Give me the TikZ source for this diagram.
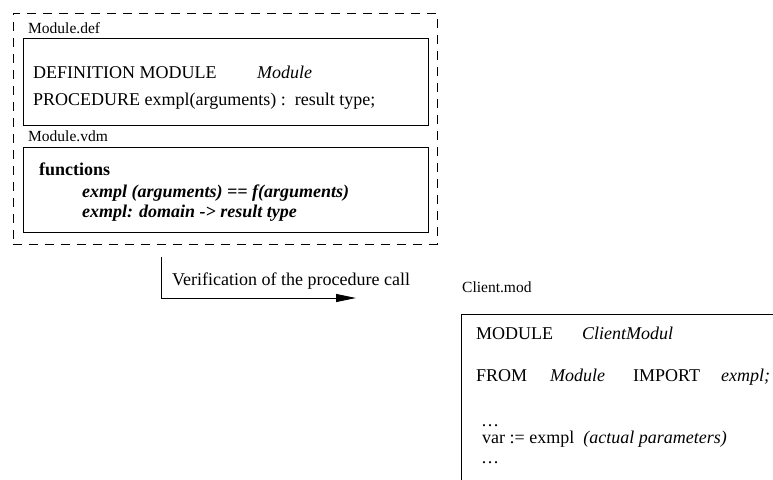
\documentclass[tikz,border=0pt]{standalone}
\usepackage{fontspec}
\setmainfont{Liberation Serif}
\usepackage{tikz}
\usetikzlibrary{arrows.meta,positioning}

\begin{document}
\begin{tikzpicture}[
    x=1pt, y=-1pt,
    box/.style={rectangle, draw, line width=1pt, anchor=north west, inner sep=0pt},
    group/.style={rectangle, draw, line width=0.9pt, dash pattern=on 9pt off 7pt, anchor=north west, inner sep=0pt},
    file/.style={anchor=base west, inner sep=0pt, font=\fontsize{15.5}{18}\selectfont},
    code/.style={anchor=base west, inner sep=0pt, font=\fontsize{18}{21}\selectfont},
    arrow/.style={-{Triangle[length=20pt,width=8pt]}, line width=0.9pt}
]
    \clip (0,0) rectangle (773,479);

    % definition part with its VDM specification
    \node[group, minimum width=424pt, minimum height=231pt] (spec) at (13,13) {};
    \node[file] (deflabel) at (28,33) {Module.def};
    \node[box, minimum width=405pt, minimum height=87pt] (defbox) at (23,38) {};
    \node[code] (defhead) at (33,78) {DEFINITION MODULE};
    \node[code] (defname) at (257,78) {\itshape Module};
    \node[code] (defproc) at (33,105) {PROCEDURE exmpl(arguments) :~~result type;};

    \node[file] (vdmlabel) at (28,141) {Module.vdm};
    \node[box, minimum width=405pt, minimum height=85pt] (vdmbox) at (23,147) {};
    \node[code] (vdmhead) at (39,175) {\bfseries functions};
    \node[code] (vdmdef) at (82,197) {\bfseries\itshape exmpl (arguments) == f(arguments)};
    \node[code] (vdmsig) at (82,217) {\bfseries\itshape exmpl: domain -> result type};

    % client module
    \node[file] (clientlabel) at (462,292) {Client.mod};
    \node[box, minimum width=400pt, minimum height=220pt] (clientbox) at (461,314) {};
    \node[code] (clienthead) at (476,339) {MODULE};
    \node[code] (clientname) at (582,339) {\itshape ClientModul};
    \node[code] (from) at (476,381) {FROM};
    \node[code] (frommod) at (550,381) {\itshape Module};
    \node[code] (import) at (633,381) {IMPORT};
    \node[code] (importname) at (721,381) {\itshape exmpl;};
    \node[code] (dotsa) at (481,426) {\ldots};
    \node[code] (call) at (482,443) {var := exmpl~~\textit{(actual parameters)}};
    \node[code] (dotsb) at (481,463) {\ldots};

    % verification step
    \coordinate (checkstart) at (161,257);
    \coordinate (checkend) at (356,298);
    \draw[arrow] (checkstart) |- (checkend);
    \node[code] (checklabel) at (172,285) {Verification of the procedure call};
\end{tikzpicture}
\end{document}
